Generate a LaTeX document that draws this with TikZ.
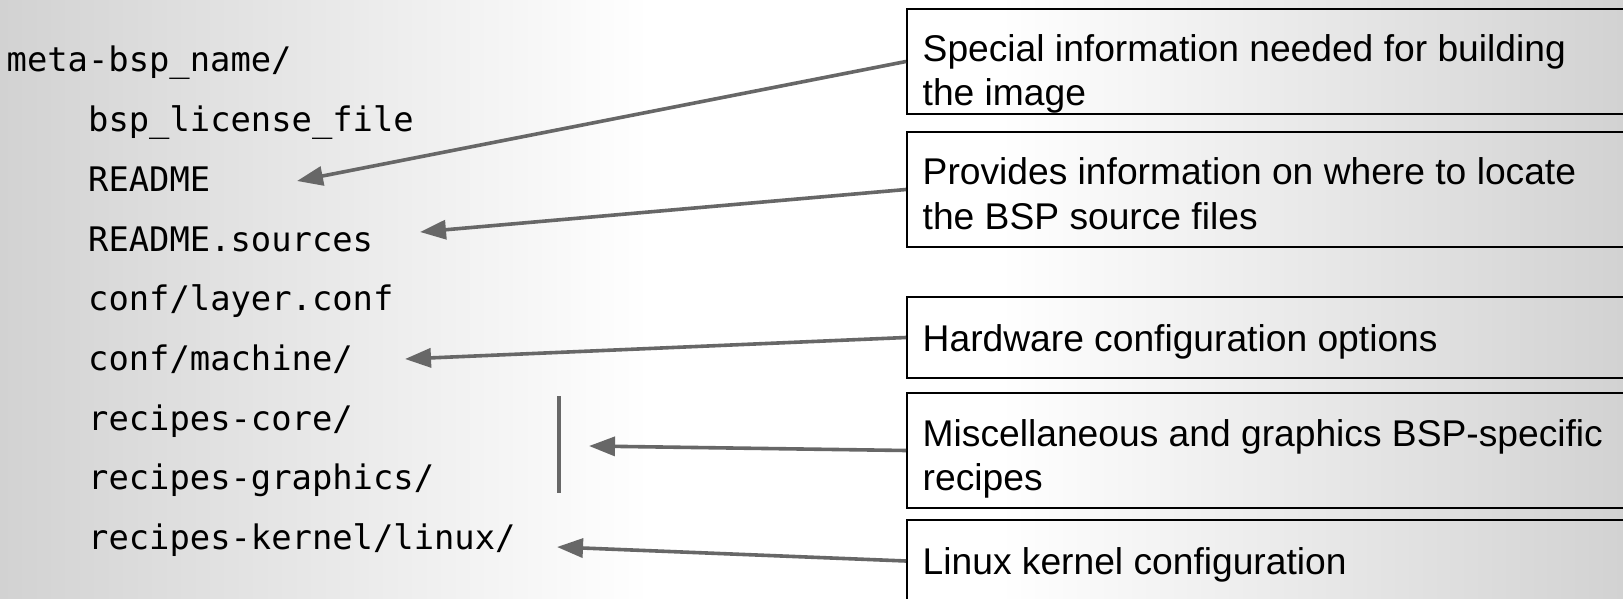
\documentclass[tikz,border=0pt]{standalone}
\usepackage{fontspec}
\setmainfont{Liberation Sans}
\newfontfamily\codefont{DejaVu Sans Mono}
\usetikzlibrary{arrows.meta}
\definecolor{edgegray}{HTML}{D2D2D2}
\definecolor{linkgray}{HTML}{676767}

\begin{document}
\begin{tikzpicture}[x=1pt,y=-1pt,
  filename/.style={anchor=base west,inner sep=0pt,
    font=\codefont\fontsize{33.8pt}{40pt}\selectfont},
  notebox/.style={draw=black,line width=2pt,rectangle,anchor=north west,
    minimum width=760pt,inner sep=0pt},
  notetext/.style={anchor=base west,inner sep=0pt,
    font=\fontsize{37.2pt}{44pt}\selectfont},
  pointer/.style={draw=linkgray,line width=3.6pt,
    -{Triangle[length=26pt,width=19pt]}},
  bracketbar/.style={draw=linkgray,line width=3.6pt}]

\useasboundingbox (0,0) rectangle (1623,599);
\clip (0,0) rectangle (1623,599);

% background: grey at both sides, white in the middle
\shade[left color=edgegray,right color=white] (0,0) rectangle (650,599);
\fill[white] (649,0) rectangle (1001,599);
\shade[left color=white,right color=edgegray] (1000,0) rectangle (1623,599);

% directory listing
\node[filename] (f0) at (6.5,72)    {meta-bsp\_name/};
\node[filename] (f1) at (88,131.7)  {bsp\_license\_file};
\node[filename] (f2) at (88,191.4)  {README};
\node[filename] (f3) at (88,251.1)  {README.sources};
\node[filename] (f4) at (88,310.8)  {conf/layer.conf};
\node[filename] (f5) at (88,370.5)  {conf/machine/};
\node[filename] (f6) at (88,430.2)  {recipes-core/};
\node[filename] (f7) at (88,489.9)  {recipes-graphics/};
\node[filename] (f8) at (88,549.6)  {recipes-kernel/linux/};

% explanation boxes (they run past the right edge)
\node[notebox,minimum height=105pt] (b1) at (906,8)   {};
\node[notebox,minimum height=115pt] (b2) at (906,131) {};
\node[notebox,minimum height=81pt]  (b3) at (906,296) {};
\node[notebox,minimum height=115pt] (b4) at (906,392) {};
\node[notebox,minimum height=82pt]  (b5) at (906,519) {};

\node[notetext] (t1a) at (922.5,62)  {Special information needed for building};
\node[notetext] (t1b) at (922.5,106) {the image};
\node[notetext] (t2a) at (922.5,185) {Provides information on where to locate};
\node[notetext] (t2b) at (922.5,229) {the BSP source files};
\node[notetext] (t3a) at (922.5,351) {Hardware configuration options};
\node[notetext] (t4a) at (922.5,446) {Miscellaneous and graphics BSP-specific};
\node[notetext] (t4b) at (922.5,490) {recipes};
\node[notetext] (t5a) at (922.5,574) {Linux kernel configuration};

% arrow tips and the bar grouping the two recipe folders
\coordinate (p1) at (297,181);
\coordinate (p2) at (420,232);
\coordinate (p3) at (405,359);
\coordinate (p4) at (589,446);
\coordinate (p5) at (557,547);
\coordinate (g1) at (559,396);
\coordinate (g2) at (559,493);

\draw[bracketbar] (g1) -- (g2);

\draw[pointer] (b1.west) -- (p1);
\draw[pointer] (b2.west) -- (p2);
\draw[pointer] (b3.west) -- (p3);
\draw[pointer] (b4.west) -- (p4);
\draw[pointer] (b5.west) -- (p5);
\end{tikzpicture}
\end{document}
